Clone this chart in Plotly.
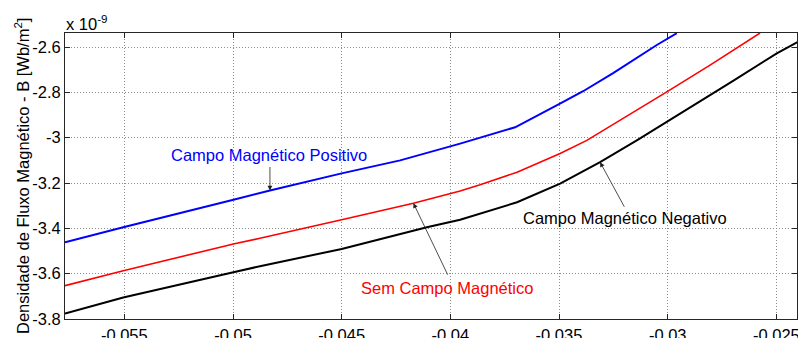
import plotly.graph_objects as go

# ---- data (B in units of 1e-9 Wb/m^2) ----
x_pos = [-0.05773, -0.05505, -0.04998, -0.04830, -0.04500, -0.04231, -0.03955, -0.03702,
         -0.03500, -0.03389, -0.03251, -0.03050, -0.02958]
b_pos = [-3.4615, -3.395, -3.274, -3.233, -3.1575, -3.100, -3.026, -2.954,
         -2.852, -2.795, -2.715, -2.591, -2.539]

x_sem = [-0.05773, -0.05505, -0.04998, -0.04876, -0.04500, -0.04170, -0.03955, -0.03863,
         -0.03693, -0.03495, -0.03372, -0.03233, -0.03004, -0.02805, -0.02575]
b_sem = [-3.653, -3.587, -3.469, -3.444, -3.362, -3.289, -3.235, -3.208,
         -3.152, -3.070, -3.012, -2.932, -2.798, -2.680, -2.538]

x_neg = [-0.05773, -0.05505, -0.04998, -0.04876, -0.04500, -0.04108, -0.03955, -0.03693,
         -0.03495, -0.03311, -0.03142, -0.03004, -0.02699, -0.02498, -0.02400]
b_neg = [-3.776, -3.705, -3.594, -3.567, -3.491, -3.395, -3.362, -3.285,
         -3.203, -3.108, -3.012, -2.931, -2.749, -2.628, -2.577]

x_ticks = [-0.055, -0.05, -0.045, -0.04, -0.035, -0.03, -0.025]
x_tick_labels = ["-0.055", "-0.05", "-0.045", "-0.04", "-0.035", "-0.03", "-0.025"]
y_ticks = [-3.8, -3.6, -3.4, -3.2, -3.0, -2.8, -2.6]
y_tick_labels = ["-3.8", "-3.6", "-3.4", "-3.2", "-3", "-2.8", "-2.6"]

FONT = "Liberation Sans, Arial, Helvetica, sans-serif"
FS = 16.5

fig = go.Figure()
fig.add_trace(go.Scatter(x=x_pos, y=b_pos, mode="lines", line=dict(color="#0000FF", width=2),
                         name="Campo Magnético Positivo"))
fig.add_trace(go.Scatter(x=x_sem, y=b_sem, mode="lines", line=dict(color="#FF0000", width=1.6),
                         name="Sem Campo Magnético"))
fig.add_trace(go.Scatter(x=x_neg, y=b_neg, mode="lines", line=dict(color="#000000", width=2),
                         name="Campo Magnético Negativo"))

axis_common = dict(
    showline=True, linecolor="#262626", linewidth=1, mirror="ticks",
    ticks="inside", ticklen=5, tickcolor="#262626",
    showgrid=True, gridcolor="#8c8c8c", griddash="1px,2px", gridwidth=1,
    zeroline=False, automargin=False, ticklabeloverflow="allow",
    tickfont=dict(family=FONT, size=FS, color="black"),
)

fig.update_xaxes(range=[-0.05773, -0.02405], tickvals=x_ticks, ticktext=x_tick_labels,
                 ticklabelstandoff=1, **axis_common)
fig.update_yaxes(range=[-3.8, -2.538], tickvals=y_ticks, ticktext=y_tick_labels, **axis_common)

ARW = dict(text="", showarrow=True, arrowhead=2, arrowsize=1.2, arrowwidth=0.8, arrowcolor="#202020")
annotations = [
    # texts
    dict(x=-0.04836, y=-3.078, text="Campo Magnético Positivo", showarrow=False,
         font=dict(family=FONT, size=FS, color="#0000FF")),
    dict(x=-0.04015, y=-3.662, text="Sem Campo Magnético", showarrow=False,
         font=dict(family=FONT, size=FS, color="#FF0000")),
    dict(x=-0.03197, y=-3.355, text="Campo Magnético Negativo", showarrow=False,
         font=dict(family=FONT, size=FS, color="#000000")),
    # arrows
    dict(x=-0.04830, y=-3.233, ax=0, ay=-25, **ARW),
    dict(x=-0.04170, y=-3.289, ax=35, ay=73, **ARW),
    dict(x=-0.03311, y=-3.108, ax=25, ay=46, **ARW),
    # exponent label
    dict(xref="paper", yref="paper", x=0, y=1, xanchor="left", yanchor="bottom",
         text="x 10<sup>-9</sup>", showarrow=False, xshift=-1, yshift=-2,
         font=dict(family=FONT, size=FS, color="black")),
    # y axis title
    dict(xref="paper", yref="paper", x=0, y=0.5, xshift=-43, xanchor="center", yanchor="middle",
         textangle=-90,
         text="Densidade de Fluxo Magnético - B [Wb/m<sup>2</sup>]", showarrow=False,
         font=dict(family=FONT, size=FS, color="black")),
]

fig.update_layout(
    width=798, height=338,
    margin=dict(l=65, r=1, t=33, b=19),
    paper_bgcolor="white", plot_bgcolor="white",
    showlegend=False,
    annotations=annotations,
    font=dict(family=FONT, size=FS),
)

fig.write_html("out.html")
